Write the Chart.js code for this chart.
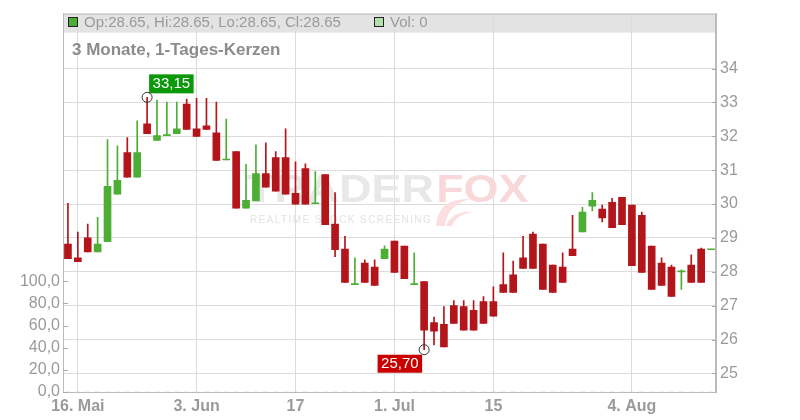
<!DOCTYPE html>
<html>
<head>
<meta charset="utf-8">
<title>3 Monate, 1-Tages-Kerzen</title>
<script src="https://cdn.jsdelivr.net/npm/chart.js@4/dist/chart.umd.min.js"></script>
<style>
	html, body { margin: 0; padding: 0; background: #fff; }
	#chartDiv { width: 800px; height: 420px; }
</style>
</head>
<body>
<div id="chartDiv"><canvas id="chart" width="800" height="420"></canvas></div>
<script>
//trading days shown on the chart
var days = [
	"2025-05-15","2025-05-16","2025-05-19","2025-05-20","2025-05-21","2025-05-22","2025-05-23",
	"2025-05-26","2025-05-27","2025-05-28","2025-05-29","2025-05-30","2025-06-02","2025-06-03",
	"2025-06-04","2025-06-05","2025-06-06","2025-06-09","2025-06-10","2025-06-11","2025-06-12",
	"2025-06-13","2025-06-16","2025-06-17","2025-06-18","2025-06-19","2025-06-20","2025-06-23",
	"2025-06-24","2025-06-25","2025-06-26","2025-06-27","2025-06-30","2025-07-01","2025-07-02",
	"2025-07-03","2025-07-04","2025-07-07","2025-07-08","2025-07-09","2025-07-10","2025-07-11",
	"2025-07-14","2025-07-15","2025-07-16","2025-07-17","2025-07-18","2025-07-21","2025-07-22",
	"2025-07-23","2025-07-24","2025-07-25","2025-07-28","2025-07-29","2025-07-30","2025-07-31",
	"2025-08-01","2025-08-04","2025-08-05","2025-08-06","2025-08-07","2025-08-08","2025-08-11",
	"2025-08-12","2025-08-13","2025-08-14"
];

//which days get a label + grid line
var tickDays = ["2025-05-16", "2025-06-03", "2025-06-17", "2025-07-01", "2025-07-15", "2025-08-04"];
var tickLabels = ["16. Mai", "3. Jun", "17", "1. Jul", "15", "4. Aug"];

var opens = [
	28.82, 28.41, 29.00, 28.59, 28.89, 30.29, 31.52, 30.79, 32.37, 31.88, 32.02,
	32.08, 32.95, 32.22, 32.31, 32.10, 31.30, 31.55, 29.88, 30.09, 30.90, 31.37,
	31.37, 30.32, 31.05, 30.01, 30.87, 29.41, 28.67, 27.62, 28.26, 28.14, 28.39,
	28.91, 28.76, 27.62, 27.71, 26.50, 26.45, 27.00, 26.97, 26.86, 27.12, 27.12,
	27.62, 27.91, 28.41, 29.11, 28.82, 28.20, 28.14, 28.67, 29.18, 29.94, 29.85,
	30.05, 30.20, 29.97, 29.67, 28.76, 28.26, 28.14, 28.00, 28.20, 28.67, 28.65
];
var highs = [
	30.02, 29.17, 29.41, 29.61, 31.90, 31.72, 31.96, 32.46, 33.15, 33.07, 33.01,
	33.01, 33.10, 33.12, 33.12, 33.01, 32.51, 31.55, 31.17, 31.75, 31.81, 31.55,
	32.22, 31.25, 31.19, 30.96, 30.87, 30.34, 29.05, 28.41, 28.35, 28.35, 28.77,
	28.91, 28.76, 28.56, 27.71, 26.66, 26.97, 27.15, 27.15, 27.15, 27.27, 27.56,
	28.56, 28.32, 29.05, 29.17, 28.82, 28.20, 28.56, 29.67, 29.90, 30.34, 29.97,
	30.17, 30.20, 29.97, 29.76, 28.76, 28.41, 28.20, 28.06, 28.50, 28.70, 28.65
];
var lows = [
	28.39, 28.30, 28.59, 28.59, 28.89, 30.29, 30.79, 30.79, 32.08, 31.88, 32.02,
	32.08, 32.20, 32.00, 32.20, 31.29, 31.30, 29.88, 29.88, 30.09, 30.50, 30.38,
	30.29, 30.00, 30.00, 30.01, 29.39, 28.45, 27.69, 27.62, 27.69, 27.60, 28.39,
	27.98, 27.80, 27.62, 25.70, 25.84, 25.78, 26.48, 26.28, 26.28, 26.48, 26.69,
	27.39, 27.39, 28.10, 28.10, 27.48, 27.39, 27.69, 28.48, 29.18, 29.80, 29.47,
	29.30, 29.39, 28.18, 27.98, 27.48, 27.60, 27.27, 27.48, 27.69, 27.69, 28.65
];
var closes = [
	28.39, 28.30, 28.59, 28.82, 30.52, 30.70, 30.79, 31.52, 32.08, 32.02, 32.02,
	32.22, 32.20, 32.00, 32.20, 31.29, 31.30, 29.88, 30.11, 30.90, 30.50, 30.38,
	30.29, 30.00, 30.00, 30.01, 29.39, 28.65, 27.69, 27.62, 27.69, 27.60, 28.67,
	27.98, 27.80, 27.62, 26.28, 26.25, 25.78, 26.48, 26.28, 26.28, 26.48, 26.69,
	27.39, 27.39, 28.10, 28.10, 27.48, 27.39, 27.69, 28.48, 29.76, 30.11, 29.59,
	29.30, 29.39, 28.18, 27.98, 27.48, 27.60, 27.27, 28.00, 27.69, 27.69, 28.65
];
var volumes = [
	0, 0, 0, 0, 0, 0, 0, 0, 0, 0, 0, 0, 0, 0, 0, 0, 0, 0, 0, 0, 0, 0,
	0, 0, 0, 0, 0, 0, 0, 0, 0, 0, 0, 0, 0, 0, 0, 0, 0, 0, 0, 0, 0, 0,
	0, 0, 0, 0, 0, 0, 0, 0, 0, 0, 0, 0, 0, 0, 0, 0, 0, 0, 0, 0, 0, 0
];

var priceTicks = [25, 26, 27, 28, 29, 30, 31, 32, 33, 34];
var volumeTicks = [0, 20, 40, 60, 80, 100];

var UP = "#4cae34";
var DOWN = "#b3151a";
var FONT = "'Liberation Sans', Arial, sans-serif";

function de(v, digits) {
	return v.toFixed(digits).replace(".", ",");
}

//build candle pieces: one floating bar for the wick, one for the body
var wickData = [], bodyData = [], candleColors = [];
for (var i = 0; i < days.length; i++) {
	wickData.push([lows[i], highs[i]]);
	bodyData.push([Math.min(opens[i], closes[i]), Math.max(opens[i], closes[i])]);
	candleColors.push(closes[i] >= opens[i] ? UP : DOWN);
}

var traderfoxPlugin = {
	id: "traderfox",
	beforeDraw: function(chart) {
		var ctx = chart.ctx, a = chart.chartArea;
		ctx.save();
		ctx.fillStyle = "#fff";
		ctx.fillRect(0, 0, chart.width, chart.height);
		//grey header band
		ctx.fillStyle = "#e3e3e3";
		ctx.fillRect(a.left, a.top, a.right - a.left, 19);
		ctx.restore();
	},
	beforeDatasetsDraw: function(chart) {
		//watermark
		var ctx = chart.ctx;
		ctx.save();
		ctx.font = "bold 38px " + FONT;
		ctx.translate(247, 202);
		ctx.scale(1.18, 1);
		ctx.fillStyle = "#e8e8e8";
		ctx.fillText("TRADER", 0, 0);
		var w = ctx.measureText("TRADER").width;
		ctx.fillStyle = "#f9d8da";
		ctx.fillText("FOX", w + 2, 0);
		ctx.restore();

		ctx.save();
		ctx.fillStyle = "#fbdfe0";
		ctx.beginPath();
		ctx.moveTo(436, 226);
		ctx.quadraticCurveTo(438, 198, 470, 199);
		ctx.quadraticCurveTo(447, 205, 445, 226);
		ctx.closePath();
		ctx.fill();
		ctx.beginPath();
		ctx.moveTo(446, 226);
		ctx.quadraticCurveTo(452, 210, 474, 212);
		ctx.quadraticCurveTo(456, 214, 452, 226);
		ctx.closePath();
		ctx.fill();
		ctx.restore();

		ctx.save();
		ctx.font = "10px " + FONT;
		ctx.letterSpacing = "1.4px";
		ctx.fillStyle = "#e2e2e2";
		ctx.fillText("REALTIME STOCK SCREENING", 250, 223);
		ctx.restore();
	},
	afterDatasetsDraw: function(chart) {
		//high / low markers
		var ctx = chart.ctx, xs = chart.scales.x, ys = chart.scales.y;
		var iMax = highs.indexOf(Math.max.apply(null, highs));
		var iMin = lows.indexOf(Math.min.apply(null, lows));

		ctx.save();
		ctx.font = "15px " + FONT;
		ctx.textBaseline = "middle";
		ctx.textAlign = "center";

		var cx = xs.getPixelForValue(iMax), cy = ys.getPixelForValue(highs[iMax]);
		var txt = de(highs[iMax], 2);
		var bw = ctx.measureText(txt).width + 7;
		ctx.fillStyle = "#0b990b";
		ctx.fillRect(cx + 2, cy - 23, bw, 19);
		ctx.fillStyle = "#fff";
		ctx.fillText(txt, cx + 2 + bw / 2, cy - 13);
		ctx.strokeStyle = "#333";
		ctx.lineWidth = 1;
		ctx.beginPath();
		ctx.arc(cx, cy, 5, 0, Math.PI * 2);
		ctx.stroke();

		cx = xs.getPixelForValue(iMin);
		cy = ys.getPixelForValue(lows[iMin]);
		txt = de(lows[iMin], 2);
		bw = ctx.measureText(txt).width + 7;
		ctx.fillStyle = "#c80000";
		ctx.fillRect(cx - 2 - bw, cy + 5, bw, 18);
		ctx.fillStyle = "#fff";
		ctx.fillText(txt, cx - 2 - bw / 2, cy + 14.5);
		ctx.beginPath();
		ctx.arc(cx, cy, 5, 0, Math.PI * 2);
		ctx.stroke();
		ctx.restore();
	},
	afterDraw: function(chart) {
		var ctx = chart.ctx, a = chart.chartArea;
		var last = days.length - 1;
		ctx.save();

		//frame
		ctx.strokeStyle = "#bbb";
		ctx.lineWidth = 1;
		ctx.strokeRect(a.left + 0.5, a.top + 0.5, a.right - a.left - 1, a.bottom - a.top);

		//little tick marks inside the frame
		ctx.strokeStyle = "#aaa";
		ctx.beginPath();
		priceTicks.forEach(function(v) {
			var y = Math.round(chart.scales.y.getPixelForValue(v)) + 0.5;
			ctx.moveTo(a.right - 4, y);
			ctx.lineTo(a.right, y);
		});
		volumeTicks.forEach(function(v) {
			var y = Math.round(chart.scales.yv.getPixelForValue(v)) + 0.5;
			ctx.moveTo(a.left, y);
			ctx.lineTo(a.left + 5, y);
		});
		ctx.stroke();

		//header legend
		ctx.fillStyle = UP;
		ctx.fillRect(68, 17, 10, 10);
		ctx.strokeStyle = "#222";
		ctx.strokeRect(68.5, 17.5, 9, 9);
		ctx.fillStyle = "#b2e0b0";
		ctx.fillRect(374, 17, 10, 10);
		ctx.strokeRect(374.5, 17.5, 9, 9);

		ctx.font = "15px " + FONT;
		ctx.fillStyle = "#9a9a9a";
		ctx.textBaseline = "alphabetic";
		ctx.fillText("Op:" + opens[last].toFixed(2) + ", Hi:" + highs[last].toFixed(2) +
			", Lo:" + lows[last].toFixed(2) + ", Cl:" + closes[last].toFixed(2), 84, 27);
		ctx.fillText("Vol: " + volumes[last], 390, 27);

		//title
		ctx.font = "bold 17px " + FONT;
		ctx.fillStyle = "#8c8c8c";
		ctx.fillText("3 Monate, 1-Tages-Kerzen", 72, 55);
		ctx.restore();
	}
};

var ctx = document.getElementById("chart").getContext("2d");

var myChart = new Chart(ctx, {
	type: "bar",
	data: {
		labels: days,
		datasets: [
			{
				label: "Kerze",
				data: bodyData,
				yAxisID: "y",
				backgroundColor: candleColors,
				barThickness: 7,
				minBarLength: 1,
				grouped: false,
				order: 1
			},
			{
				label: "Docht",
				data: wickData,
				yAxisID: "y",
				backgroundColor: candleColors,
				barThickness: 1,
				grouped: false,
				order: 2
			},
			{
				label: "Vol",
				data: volumes,
				yAxisID: "yv",
				backgroundColor: "#b2e0b0",
				barThickness: 5,
				grouped: false,
				order: 3
			}
		]
	},
	options: {
		responsive: false,
		animation: false,
		layout: { padding: { top: 11, left: 0, right: 0, bottom: 0 } },
		plugins: {
			legend: { display: false },
			tooltip: { enabled: false }
		},
		scales: {
			x: {
				type: "category",
				offset: true,
				grid: {
					offset: false,
					drawTicks: false,
					color: function(c) {
						return tickDays.indexOf(days[c.index]) >= 0 ? "#dcdcdc" : "rgba(0,0,0,0)";
					}
				},
				border: { color: "#bbb" },
				ticks: {
					autoSkip: false,
					maxRotation: 0,
					padding: 5,
					color: "#9a9a9a",
					font: { family: FONT, size: 16, weight: "bold" },
					callback: function(value, index) {
						var k = tickDays.indexOf(days[index]);
						return k >= 0 ? tickLabels[k] : "";
					}
				},
				afterFit: function(s) { s.height = 28; }
			},
			y: {
				position: "right",
				min: 24.452,
				max: 35.622,
				afterBuildTicks: function(s) {
					s.ticks = priceTicks.map(function(v) { return { value: v }; });
				},
				grid: { color: "#dcdcdc", drawTicks: false },
				border: { color: "#bbb" },
				ticks: {
					padding: 4,
					color: "#9a9a9a",
					font: { family: FONT, size: 16 },
					callback: function(v) { return v; }
				},
				afterFit: function(s) { s.width = 84; }
			},
			yv: {
				position: "left",
				min: 0,
				max: 341.7,
				afterBuildTicks: function(s) {
					s.ticks = volumeTicks.map(function(v) { return { value: v }; });
				},
				grid: { drawOnChartArea: false, drawTicks: false },
				border: { color: "#bbb" },
				ticks: {
					padding: 3,
					color: "#9a9a9a",
					font: { family: FONT, size: 16 },
					callback: function(v) { return de(v, 1); }
				},
				afterFit: function(s) { s.width = 63; }
			}
		}
	},
	plugins: [traderfoxPlugin]
});
</script>
</body>
</html>
